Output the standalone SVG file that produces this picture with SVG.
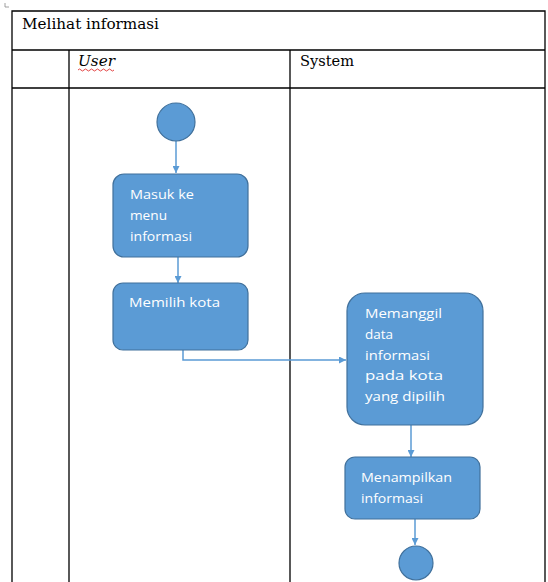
<svg xmlns="http://www.w3.org/2000/svg" width="548" height="582" viewBox="0 0 548 582">
<style>
.tbl{stroke:#000;stroke-width:1.3;fill:none}
.hd{font-family:"DejaVu Serif","Liberation Serif",serif;font-size:14px;fill:#000}
.act{fill:#5b9bd5;stroke:#41719c;stroke-width:1.2}
.lbl{font-family:"Open Sans","Liberation Sans",sans-serif;font-size:13.5px;fill:#fff}
.con{stroke:#5b9bd5;stroke-width:1.5;fill:none}
</style>
<defs>
<marker id="ah" viewBox="0 0 10 10" refX="10" refY="5" markerWidth="7" markerHeight="7" markerUnits="userSpaceOnUse" orient="auto">
<path d="M0,0 L10,5 L0,10 z" fill="#5b9bd5"/>
</marker>
</defs>
<rect width="548" height="582" fill="#fff"/>
<g id="table">
<path d="M5,3 V7 H9" stroke="#888" stroke-width="0.8" fill="none"/>
<path class="tbl" d="M12,582 V11 H545 V582 M12,50 H545 M12,88 H545 M69,50 V582 M290,50 V582"/>
<text class="hd" x="22" y="29" textLength="137" lengthAdjust="spacingAndGlyphs">Melihat informasi</text>
<text class="hd" x="78" y="66" font-style="italic" textLength="37" lengthAdjust="spacingAndGlyphs">User</text>
<path d="M78,70 q1.5,-2 3,0 t3,0 t3,0 t3,0 t3,0 t3,0 t3,0 t3,0 t3,0 t3,0 t3,0 t3,0" stroke="#e03030" stroke-width="0.9" fill="none"/>
<text class="hd" x="300" y="66" textLength="54" lengthAdjust="spacingAndGlyphs">System</text>
</g>
<g id="connectors">
<line class="con" x1="176" y1="141" x2="176" y2="173" marker-end="url(#ah)"/>
<line class="con" x1="178" y1="257" x2="178" y2="283" marker-end="url(#ah)"/>
<polyline class="con" points="183,350 183,360 346,360" marker-end="url(#ah)"/>
<line class="con" x1="411" y1="425" x2="411" y2="457" marker-end="url(#ah)"/>
<line class="con" x1="415" y1="519" x2="415" y2="545" marker-end="url(#ah)"/>
</g>
<g id="start">
<circle class="act" cx="176" cy="122" r="19"/>
</g>
<g id="masuk">
<rect class="act" x="113" y="174" width="135" height="83" rx="11"/>
<text class="lbl" x="130" y="199" textLength="64" lengthAdjust="spacingAndGlyphs">Masuk ke</text>
<text class="lbl" x="130" y="220" textLength="37" lengthAdjust="spacingAndGlyphs">menu</text>
<text class="lbl" x="130" y="241" textLength="62" lengthAdjust="spacingAndGlyphs">informasi</text>
</g>
<g id="memilih">
<rect class="act" x="113" y="283" width="135" height="67" rx="10"/>
<text class="lbl" x="129" y="307" textLength="91" lengthAdjust="spacingAndGlyphs">Memilih kota</text>
</g>
<g id="memanggil">
<rect class="act" x="347" y="293" width="136" height="132" rx="18"/>
<text class="lbl" x="365" y="318" textLength="77" lengthAdjust="spacingAndGlyphs">Memanggil</text>
<text class="lbl" x="365" y="339">data</text>
<text class="lbl" x="365" y="360" textLength="65" lengthAdjust="spacingAndGlyphs">informasi</text>
<text class="lbl" x="365" y="380" textLength="78" lengthAdjust="spacingAndGlyphs">pada kota</text>
<text class="lbl" x="365" y="401" textLength="80" lengthAdjust="spacingAndGlyphs">yang dipilih</text>
</g>
<g id="menampilkan">
<rect class="act" x="345" y="457" width="135" height="62" rx="10"/>
<text class="lbl" x="361" y="482" textLength="91" lengthAdjust="spacingAndGlyphs">Menampilkan</text>
<text class="lbl" x="361" y="503" textLength="62" lengthAdjust="spacingAndGlyphs">informasi</text>
</g>
<g id="end">
<circle class="act" cx="416" cy="563" r="17"/>
</g>
</svg>
